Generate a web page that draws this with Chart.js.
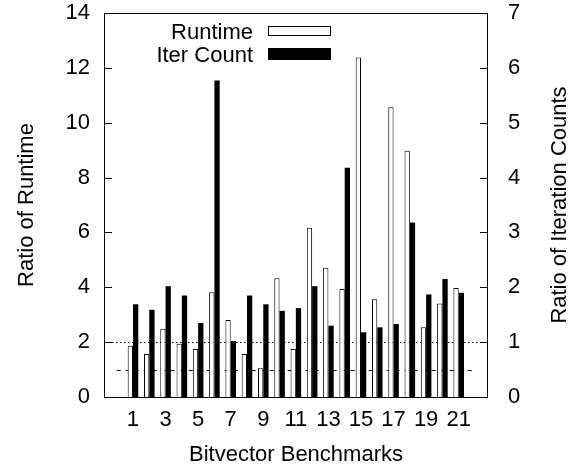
<!DOCTYPE html>
<html>
<head>
<meta charset="utf-8">
<script src="https://cdn.jsdelivr.net/npm/chart.js@4.4.1/dist/chart.umd.min.js"></script>
<style>
  html, body { margin: 0; background: #fff; }
</style>
</head>
<body>
<canvas id="chart" width="576" height="470"></canvas>
<script>
// Data
const benchmarks = [1, 2, 3, 4, 5, 6, 7, 8, 9, 10, 11, 12, 13, 14, 15, 16, 17, 18, 19, 20, 21]
const runtimeRatio = [1.87, 1.57, 2.49, 1.94, 1.75, 3.82, 2.81, 1.57, 1.05, 4.33, 1.75,
  6.17, 4.71, 3.94, 12.38, 3.56, 10.56, 8.98, 2.54, 3.41, 3.97]
const iterRatio = [1.69, 1.59, 2.02, 1.85, 1.35, 5.77, 1.02, 1.85, 1.69, 1.57, 1.62,
  2.02, 1.30, 4.18, 1.18, 1.27, 1.33, 3.18, 1.87, 2.15, 1.90]
const xTickLabels = [1, 3, 5, 7, 9, 11, 13, 15, 17, 19, 21]
const runtimeTicks = [0, 2, 4, 6, 8, 10, 12, 14]
const iterTicks = [0, 1, 2, 3, 4, 5, 6, 7]
const xRange = [-0.78, 22.8]
const iterBaseline = 1 // dotted, on the iteration axis
const runtimeBaseline = 1 // dashed, on the runtime axis
const runtimeBaselineSpan = [0, 22]

const FONT = { family: '"Liberation Sans", Arial, Helvetica, sans-serif', size: 22 }
const fontStr = `${FONT.size}px ${FONT.family}`

// Box, inward ticks, reference lines, legend and axis titles (gnuplot look)
const gnuplotFrame = {
  id: 'gnuplotFrame',
  beforeDatasetsDraw(chart) {
    const { ctx, chartArea: a, scales } = chart
    ctx.save()
    ctx.strokeStyle = '#000'
    ctx.lineWidth = 1
    // dotted: iteration ratio = 1
    let y = Math.round(scales.y2.getPixelForValue(iterBaseline)) + 0.5
    ctx.setLineDash([1.5, 2.5])
    ctx.beginPath()
    ctx.moveTo(a.left, y)
    ctx.lineTo(a.right, y)
    ctx.stroke()
    // dashed: runtime ratio = 1
    y = Math.round(scales.y.getPixelForValue(runtimeBaseline)) + 0.5
    ctx.setLineDash([4, 5])
    ctx.beginPath()
    ctx.moveTo(scales.x.getPixelForValue(runtimeBaselineSpan[0]), y)
    ctx.lineTo(scales.x.getPixelForValue(runtimeBaselineSpan[1]), y)
    ctx.stroke()
    ctx.restore()
  },
  afterDatasetsDraw(chart) {
    const { ctx, chartArea: a, scales } = chart
    ctx.save()
    ctx.strokeStyle = '#000'
    ctx.lineWidth = 1
    ctx.setLineDash([])
    ctx.strokeRect(Math.round(a.left) + 0.5, Math.round(a.top) + 0.5,
      Math.round(a.right - a.left) - 1, Math.round(a.bottom - a.top))

    // inward tick marks
    ctx.beginPath()
    runtimeTicks.forEach((v) => {
      const ty = Math.round(scales.y.getPixelForValue(v)) + 0.5
      ctx.moveTo(a.left, ty)
      ctx.lineTo(a.left + 8, ty)
    })
    iterTicks.forEach((v) => {
      const ty = Math.round(scales.y2.getPixelForValue(v)) + 0.5
      ctx.moveTo(a.right - 8, ty)
      ctx.lineTo(a.right, ty)
    })
    ctx.stroke()

    // legend
    const ds = chart.data.datasets
    ctx.font = fontStr
    ctx.fillStyle = '#000'
    ctx.textAlign = 'right'
    ctx.textBaseline = 'alphabetic'
    ctx.fillText(ds[0].label, 253, 39)
    ctx.fillText(ds[1].label, 253, 62)
    ctx.fillStyle = ds[0].backgroundColor
    ctx.fillRect(268, 26, 63, 10)
    ctx.strokeRect(268.5, 26.5, 62, 9)
    ctx.fillStyle = ds[1].backgroundColor
    ctx.fillRect(268, 48, 63, 12)

    // y titles, both reading bottom to top
    const midY = (a.top + a.bottom) / 2
    ctx.fillStyle = '#000'
    ctx.textAlign = 'center'
    ;[[33, 'Ratio of Runtime'], [566, 'Ratio of Iteration Counts']].forEach(([x, t]) => {
      ctx.save()
      ctx.translate(x, midY)
      ctx.rotate(-Math.PI / 2)
      ctx.fillText(t, 0, 0)
      ctx.restore()
    })
    ctx.restore()
  }
}

const noPad = (s) => {
  s.paddingTop = 0
  s.paddingBottom = 0
  s.paddingLeft = 0
  s.paddingRight = 0
}

new Chart(document.getElementById('chart').getContext('2d'), {
  type: 'bar',
  data: {
    datasets: [
      {
        label: 'Runtime',
        data: benchmarks.map((b, i) => ({ x: b, y: runtimeRatio[i] })),
        yAxisID: 'y',
        backgroundColor: '#ffffff',
        borderColor: '#000000',
        borderWidth: 1,
        categoryPercentage: 0.65,
        barPercentage: 1
      },
      {
        label: 'Iter Count',
        data: benchmarks.map((b, i) => ({ x: b, y: iterRatio[i] })),
        yAxisID: 'y2',
        backgroundColor: '#000000',
        borderWidth: 0,
        categoryPercentage: 0.65,
        barPercentage: 1
      }
    ]
  },
  options: {
    responsive: false,
    animation: false,
    layout: { padding: { top: 13, left: 0, right: 0, bottom: 0 } },
    plugins: {
      legend: { display: false },
      tooltip: { enabled: false }
    },
    scales: {
      x: {
        type: 'linear',
        min: xRange[0],
        max: xRange[1],
        offset: false,
        grid: { display: false, drawTicks: false },
        border: { display: false },
        ticks: { font: FONT, color: '#000', padding: 10, autoSkip: false, maxRotation: 0 },
        afterBuildTicks: (s) => { s.ticks = xTickLabels.map((v) => ({ value: v })) },
        afterFit: (s) => { s.height = 73; noPad(s) },
        title: {
          display: true,
          text: 'Bitvector Benchmarks',
          font: FONT,
          color: '#000',
          padding: { top: 0, bottom: 2 }
        }
      },
      y: {
        position: 'left',
        min: 0,
        max: 14,
        grid: { display: false, drawTicks: false },
        border: { display: false },
        ticks: { font: FONT, color: '#000', padding: 14 },
        afterBuildTicks: (s) => { s.ticks = runtimeTicks.map((v) => ({ value: v })) },
        afterFit: (s) => { s.width = 104; noPad(s) }
      },
      y2: {
        position: 'right',
        min: 0,
        max: 7,
        grid: { display: false, drawTicks: false },
        border: { display: false },
        ticks: { font: FONT, color: '#000', padding: 20 },
        afterBuildTicks: (s) => { s.ticks = iterTicks.map((v) => ({ value: v })) },
        afterFit: (s) => { s.width = 88; noPad(s) }
      }
    }
  },
  plugins: [gnuplotFrame]
})
</script>
</body>
</html>
